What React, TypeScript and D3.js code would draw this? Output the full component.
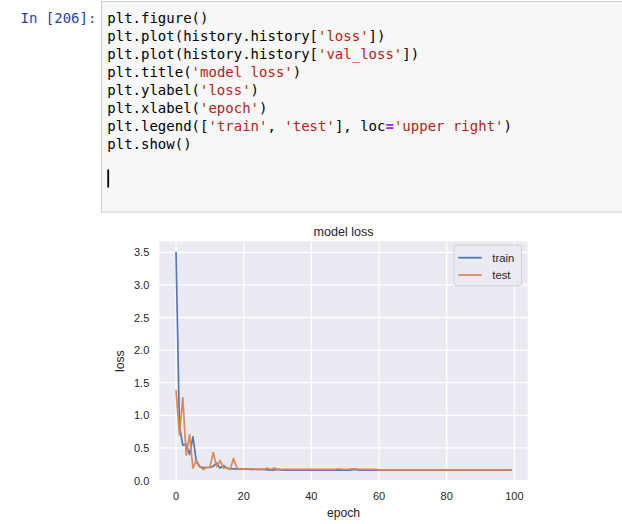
import * as d3 from "d3";

// values (100 epochs)
const epochs = d3.range(0, 100);

const trainLoss = [
  3.5, 0.83, 0.54, 0.56, 0.4, 0.67, 0.29, 0.21, 0.2, 0.2,
  0.2, 0.22, 0.27, 0.19, 0.23, 0.19, 0.18, 0.18, 0.18, 0.18,
  0.18, 0.18, 0.17, 0.17, 0.17, 0.17, 0.17, 0.165, 0.16, 0.165,
  0.17, 0.165, 0.16, 0.16, 0.165, 0.16, 0.16, 0.16, 0.16, 0.16,
  0.16, 0.16, 0.16, 0.16, 0.16, 0.16, 0.16, 0.16, 0.165, 0.16,
  0.16, 0.16, 0.165, 0.17, 0.16, 0.16, 0.16, 0.16, 0.16, 0.16,
  0.16, 0.16, 0.16, 0.16, 0.16, 0.16, 0.16, 0.16, 0.16, 0.16,
  0.16, 0.16, 0.16, 0.16, 0.16, 0.16, 0.16, 0.16, 0.16, 0.16,
  0.16, 0.16, 0.16, 0.16, 0.16, 0.16, 0.16, 0.16, 0.16, 0.16,
  0.165, 0.16, 0.16, 0.16, 0.16, 0.16, 0.16, 0.16, 0.16, 0.16,
];

const testLoss = [
  1.38, 0.7, 1.27, 0.39, 0.7, 0.19, 0.31, 0.22, 0.17, 0.2,
  0.2, 0.43, 0.21, 0.31, 0.19, 0.2, 0.17, 0.34, 0.19, 0.17,
  0.18, 0.18, 0.18, 0.18, 0.17, 0.17, 0.17, 0.19, 0.17, 0.19,
  0.17, 0.17, 0.17, 0.17, 0.17, 0.17, 0.17, 0.17, 0.17, 0.17,
  0.17, 0.17, 0.17, 0.17, 0.17, 0.17, 0.17, 0.17, 0.18, 0.17,
  0.17, 0.17, 0.18, 0.18, 0.17, 0.17, 0.17, 0.17, 0.17, 0.17,
  0.165, 0.165, 0.165, 0.165, 0.165, 0.165, 0.165, 0.165, 0.165, 0.165,
  0.165, 0.165, 0.165, 0.165, 0.165, 0.165, 0.165, 0.165, 0.165, 0.165,
  0.165, 0.165, 0.165, 0.165, 0.165, 0.165, 0.165, 0.165, 0.165, 0.165,
  0.165, 0.165, 0.165, 0.165, 0.165, 0.165, 0.165, 0.165, 0.165, 0.165,
];

const xTicks = [0, 20, 40, 60, 80, 100];
const yTicks = [0, 0.5, 1, 1.5, 2, 2.5, 3, 3.5];
const seriesNames = ["train", "test"];
const seriesColors = ["#4C72B0", "#DD8452"];

// notebook cell source, as [text, kind] tokens
const codeLines: [string, string][][] = [
  [["plt.figure()", "n"]],
  [["plt.plot(history.history[", "n"], ["'loss'", "s"], ["])", "n"]],
  [["plt.plot(history.history[", "n"], ["'val_loss'", "s"], ["])", "n"]],
  [["plt.title(", "n"], ["'model loss'", "s"], [")", "n"]],
  [["plt.ylabel(", "n"], ["'loss'", "s"], [")", "n"]],
  [["plt.xlabel(", "n"], ["'epoch'", "s"], [")", "n"]],
  [
    ["plt.legend([", "n"], ["'train'", "s"], [", ", "n"], ["'test'", "s"],
    ["], loc", "n"], ["=", "o"], ["'upper right'", "s"], [")", "n"],
  ],
  [["plt.show()", "n"]],
];

const tokenColor: Record<string, string> = { n: "#000", s: "#BA2121", o: "#AA22FF" };
const mono = "'DejaVu Sans Mono', 'Liberation Mono', monospace";
const sans = "'Liberation Sans', Arial, sans-serif";
const ink = "#262626";

export default function App() {
  const width = 622;
  const height = 524;

  const x = d3.scaleLinear().domain([-4.95, 103.95]).range([159.3, 527.7]);
  const y = d3.scaleLinear().domain([-0.007, 3.667]).range([481, 241.4]);
  const [x0, x1] = x.range();
  const [y0, y1] = y.range();

  const line = d3
    .line<number>()
    .x((_, i) => x(epochs[i]))
    .y((d) => y(d));

  const series = [trainLoss, testLoss];

  return (
    <svg
      width={width}
      height={height}
      style={{ position: "absolute", left: 0, top: 0, background: "#fff" }}
    >
      {/* notebook input cell */}
      <text x={20.5} y={17.5} dominantBaseline="central" fontFamily={mono} fontSize={14} fill="#303F9F">
        In [206]:
      </text>
      <rect x={101.5} y={1.5} width={530} height={210.5} fill="#f7f7f7" stroke="#cfcfcf" />
      {codeLines.map((toks, i) => (
        <text
          key={i}
          x={107.3}
          y={17.5 + i * 18}
          dominantBaseline="central"
          fontFamily={mono}
          fontSize={14}
          style={{ whiteSpace: "pre" }}
        >
          {toks.map(([t, k], j) => (
            <tspan key={j} fill={tokenColor[k]} fontWeight={k === "o" ? "bold" : "normal"}>
              {t}
            </tspan>
          ))}
        </text>
      ))}
      <rect x={107.3} y={169.5} width={1.8} height={18} fill="#000" />

      {/* axes */}
      <rect x={x0} y={y1} width={x1 - x0} height={y0 - y1} fill="#EAEAF2" />
      {xTicks.map((t) => (
        <line key={"gx" + t} x1={x(t)} x2={x(t)} y1={y1} y2={y0} stroke="#fff" strokeWidth={1.3} />
      ))}
      {yTicks.map((t) => (
        <line key={"gy" + t} x1={x0} x2={x1} y1={y(t)} y2={y(t)} stroke="#fff" strokeWidth={1.3} />
      ))}

      <defs>
        <clipPath id="plotClip">
          <rect x={x0} y={y1} width={x1 - x0} height={y0 - y1} />
        </clipPath>
      </defs>
      <g clipPath="url(#plotClip)">
        {series.map((s, i) => (
          <path
            key={i}
            d={line(s) ?? ""}
            fill="none"
            stroke={seriesColors[i]}
            strokeWidth={1.7}
            strokeOpacity={0.95}
            strokeLinejoin="round"
            strokeLinecap="round"
          />
        ))}
      </g>

      {xTicks.map((t) => (
        <text
          key={"tx" + t}
          x={x(t)}
          y={496}
          textAnchor="middle"
          dominantBaseline="central"
          fontFamily={sans}
          fontSize={11}
          fill={ink}
        >
          {t}
        </text>
      ))}
      {yTicks.map((t) => (
        <text
          key={"ty" + t}
          x={149.3}
          y={y(t)}
          textAnchor="end"
          dominantBaseline="central"
          fontFamily={sans}
          fontSize={11}
          fill={ink}
        >
          {d3.format(".1f")(t)}
        </text>
      ))}

      <text x={(x0 + x1) / 2} y={236} textAnchor="middle" fontFamily={sans} fontSize={12.6} fill={ink}>
        model loss
      </text>
      <text
        x={(x0 + x1) / 2}
        y={512.5}
        textAnchor="middle"
        dominantBaseline="central"
        fontFamily={sans}
        fontSize={12.2}
        fill={ink}
      >
        epoch
      </text>
      <text
        transform={`translate(120,${(y0 + y1) / 2}) rotate(-90)`}
        textAnchor="middle"
        dominantBaseline="central"
        fontFamily={sans}
        fontSize={12.2}
        fill={ink}
      >
        loss
      </text>

      {/* legend */}
      <rect
        x={454}
        y={245}
        width={67.7}
        height={40.7}
        rx={3}
        fill="#EAEAF2"
        fillOpacity={0.8}
        stroke="#cccccc"
        strokeWidth={0.9}
      />
      {seriesNames.map((name, i) => {
        const ly = 257.7 + i * 17.3;
        return (
          <g key={name}>
            <line x1={458.3} x2={481.7} y1={ly} y2={ly} stroke={seriesColors[i]} strokeWidth={1.7} />
            <text
              x={492.3}
              y={ly}
              dominantBaseline="central"
              fontFamily={sans}
              fontSize={11.3}
              fill={ink}
            >
              {name}
            </text>
          </g>
        );
      })}
    </svg>
  );
}
